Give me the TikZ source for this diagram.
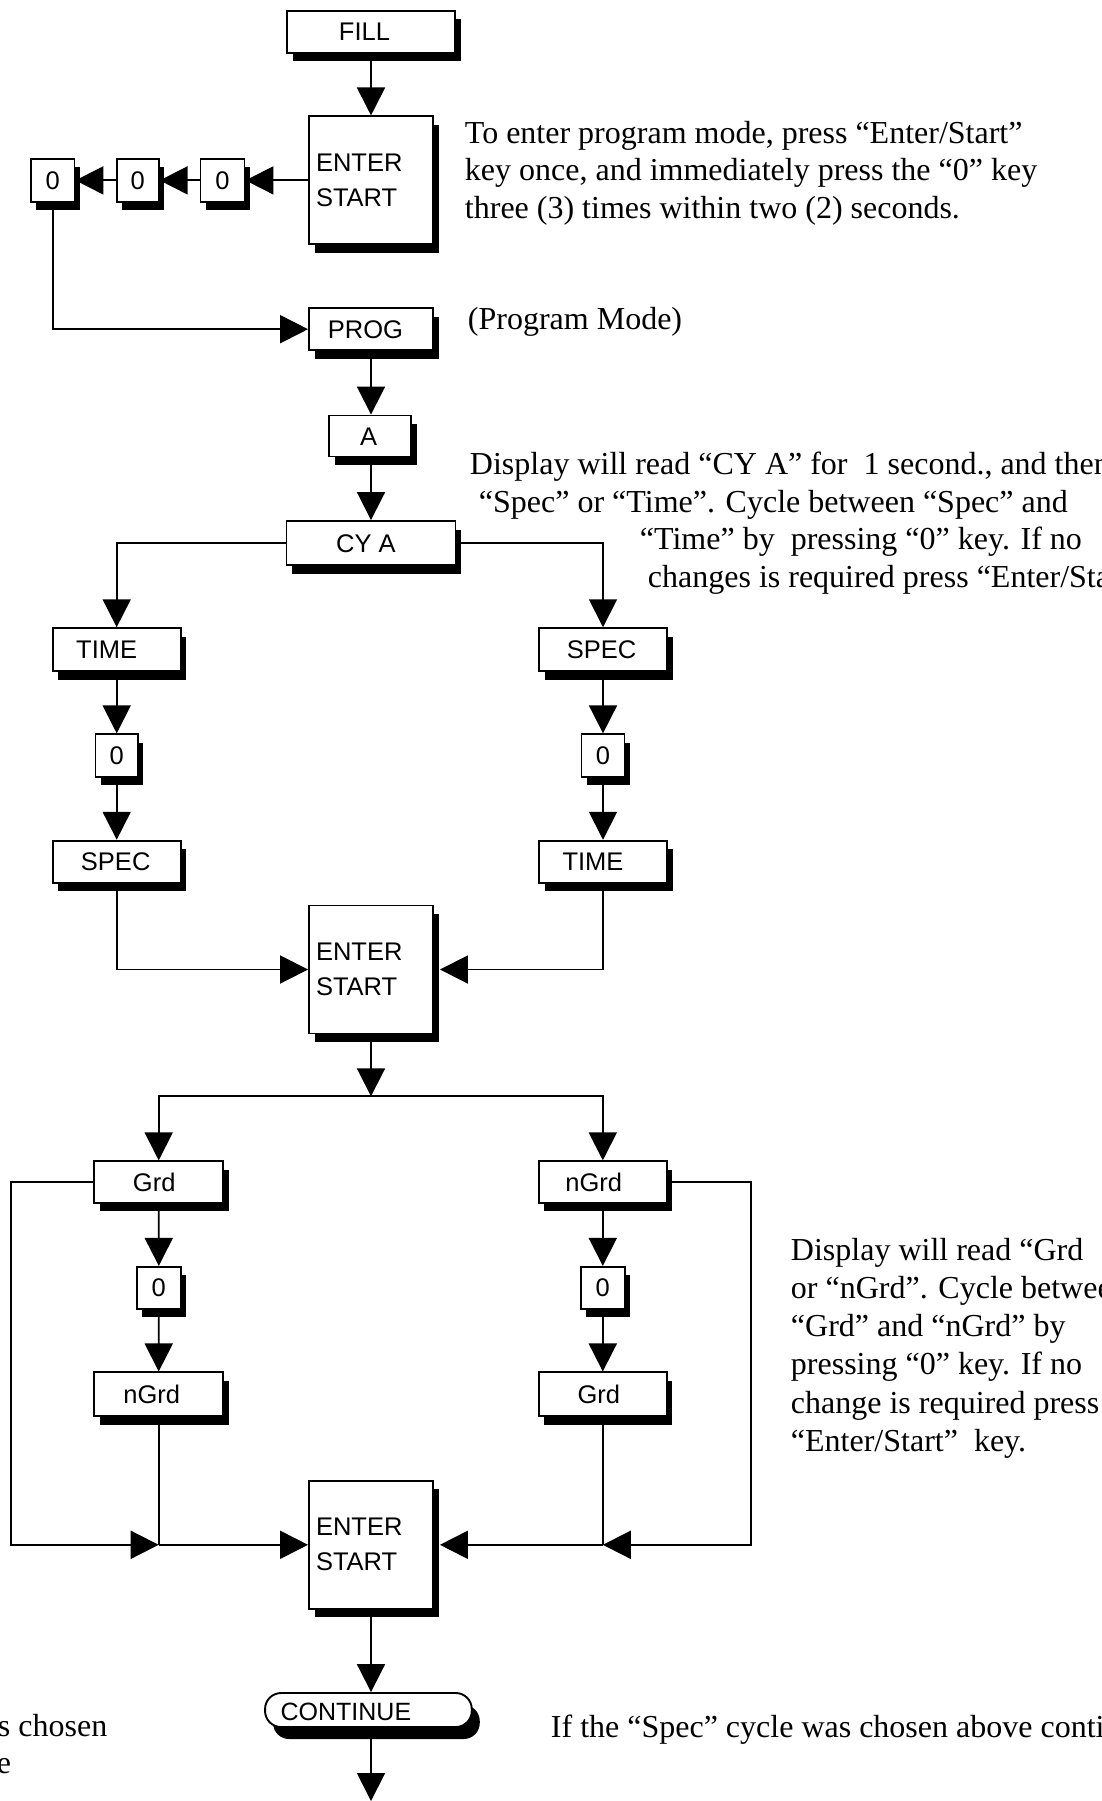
\documentclass[tikz,border=0pt]{standalone}
\usepackage{fontspec}
\setmainfont{Liberation Serif}
\newfontfamily\boxfont{Liberation Sans}
\usetikzlibrary{arrows.meta,shadows,calc}
\newcommand{\txtlines}[1]{\begin{tabular}[t]{@{}l@{}}#1\end{tabular}}
\newcommand{\pad}[1]{\rule{#1}{0pt}}
\begin{document}
\begin{tikzpicture}[x=1pt,y=-1pt,
  line width=1.9pt,
  arr/.style={-{Triangle[length=28pt,width=28pt]}},
  shad/.style={drop shadow={shadow xshift=5.5pt,shadow yshift=-8.5pt,fill=black,opacity=1}},
  box/.style={draw,fill=white,line width=1.9pt,inner sep=0pt,shad,
    font=\boxfont\fontsize{25.5}{35}\selectfont,text height=18pt,text depth=0pt},
  esbox/.style={draw,fill=white,line width=1.9pt,inner xsep=7pt,inner ysep=0pt,shad,
    font=\boxfont\fontsize{25.5}{35}\selectfont,align=left,text width=110pt,
    minimum height=128pt},
  note/.style={inner sep=0pt,anchor=base west,font=\fontsize{32}{37.5}\selectfont}
]
\useasboundingbox (0,0) rectangle (1102,1801);
\clip (0,0) rectangle (1102,1801);

% ---------- nodes ----------
\node[box,minimum width=168pt,minimum height=42pt] (fill) at (371,32) {FILL\pad{13pt}};
\node[esbox] (es1) at (371,180.4) {ENTER\\START};
\node[box,minimum width=44pt,minimum height=43pt] (z3) at (222.5,180.4) {0};
\node[box,minimum width=42pt,minimum height=43pt] (z2) at (137.7,180.4) {0};
\node[box,minimum width=43.5pt,minimum height=43pt] (z1) at (52.7,180.4) {0};
\node[box,minimum width=124pt,minimum height=42pt] (prog) at (371,329.2) {PROG\pad{11pt}};
\node[box,minimum width=82pt,minimum height=41pt] (a) at (370,436) {A\pad{3pt}};
\node[box,minimum width=169pt,minimum height=44pt] (cya) at (371,543) {CY A\pad{10pt}};

\node[box,minimum width=128pt,minimum height=43pt] (timeT) at (116.7,649.7) {TIME\pad{20pt}};
\node[box,minimum width=128pt,minimum height=43pt] (specT) at (603,649.7) {SPEC\pad{3pt}};
\node[box,minimum width=42.5pt,minimum height=42.4pt] (zl1) at (116.7,755.5) {0};
\node[box,minimum width=43pt,minimum height=42.4pt] (zr1) at (603,755.5) {0};
\node[box,minimum width=128pt,minimum height=42pt] (specL) at (116.7,861.7) {SPEC\pad{2pt}};
\node[box,minimum width=128pt,minimum height=42pt] (timeR) at (603,861.7) {TIME\pad{20pt}};
\node[esbox] (es2) at (371,969.5) {ENTER\\START};

\coordinate (j1) at (371,1096.3);
\node[box,minimum width=128.6pt,minimum height=41.4pt] (grdL) at (158.7,1182) {Grd\pad{9pt}};
\node[box,minimum width=128pt,minimum height=41.4pt] (ngrdR) at (602.8,1182) {nGrd\pad{18pt}};
\node[box,minimum width=44.3pt,minimum height=41.7pt] (zl2) at (158.8,1287.7) {0};
\node[box,minimum width=44.3pt,minimum height=41.7pt] (zr2) at (602.8,1287.7) {0};
\node[box,minimum width=128.6pt,minimum height=44pt] (ngrdL) at (158.7,1394.4) {nGrd\pad{14pt}};
\node[box,minimum width=128pt,minimum height=44pt] (grdR) at (602.8,1394.4) {Grd\pad{8pt}};
\node[esbox] (es3) at (371,1544.8) {ENTER\\START};

\coordinate (mL) at (158.7,1544.8);
\coordinate (mR) at (602.8,1544.8);
\coordinate (lout) at (11.2,1544.8);
\coordinate (rout) at (751,1544.8);

\node[draw,fill=white,line width=1.9pt,inner sep=0pt,rounded corners=16pt,
  minimum width=206.7pt,minimum height=34pt,
  drop shadow={shadow xshift=8pt,shadow yshift=-12pt,fill=black,opacity=1},
  font=\boxfont\fontsize{25}{30}\selectfont,text height=18pt,text depth=0pt]
  (cont) at (368.4,1710) {\raisebox{-1.5pt}{CONTINUE}\pad{45pt}};
\coordinate (endc) at (371,1801);

% ---------- connectors ----------
\draw[arr] (fill.south) -- (es1.north);
\draw[arr] (es1.west) -- (z3.east);
\draw[arr] (z3.west) -- (z2.east);
\draw[arr] (z2.west) -- (z1.east);
\draw[arr] (z1.south) |- (prog.west);
\draw[arr] (prog.south) -- (prog.south |- a.north);
\draw[arr] (a.south -| cya.north) -- (cya.north);
\draw[arr] (cya.west) -| (timeT.north);
\draw[arr] (cya.east) -| (specT.north);
\draw[arr] (timeT.south) -- (zl1.north);
\draw[arr] (zl1.south) -- (specL.north);
\draw[arr] (specT.south) -- (zr1.north);
\draw[arr] (zr1.south) -- (timeR.north);
\draw[arr] (specL.south) |- (es2.west);
\draw[arr] (timeR.south) |- ([xshift=6pt]es2.east);
\draw[arr] (es2.south) -- (j1);
\draw[arr] (j1) -| (grdL.north);
\draw[arr] (j1) -| (ngrdR.north);
\draw[arr] (grdL.south) -- (zl2.north);
\draw[arr] (zl2.south) -- (ngrdL.north);
\draw[arr] (ngrdR.south) -- (zr2.north);
\draw[arr] (zr2.south) -- (grdR.north);
\draw[arr] (grdL.west) -| (lout) -- (mL);
\draw (ngrdL.south) -- (mL);
\draw[arr] (mL) -- (es3.west);
\draw[arr] (ngrdR.east) -| (rout) -- (mR);
\draw (grdR.south) -- (mR);
\draw[arr] (mR) -- ([xshift=6pt]es3.east);
\draw[arr] (es3.south) -- (es3.south |- cont.north);
\draw[arr] (cont.south -| endc) -- (endc);

% ---------- notes ----------
\node[note] (n1) at (464,143.3) {\txtlines{To enter program mode, press “Enter/Start”\\
  key once, and immediately press the “0” key\\
  three (3) times within two (2) seconds.}};
\node[note] (n2) at (467,329.5) {(Program Mode)};
\node[note,font=\fontsize{32}{37.7}\selectfont] (n3) at (469,474.5) {\txtlines{Display will read “CY A” for\ \ 1 second., and then\\
  \hspace*{9pt}“Spec” or “Time”. Cycle between “Spec” and\\
  \hspace*{170pt}“Time” by\ \ pressing “0” key. If no\\
  \hspace*{178pt}changes is required press “Enter/Start”}};
\node[note,font=\fontsize{32}{38.3}\selectfont] (n4) at (790,1260) {\txtlines{Display will read “Grd\\
  or “nGrd”. Cycle between\\
  “Grd” and “nGrd” by\\
  pressing “0” key. If no\\
  change is required press\\
  “Enter/Start”\ \ key.}};
\node[note] (n5) at (550,1737) {If the “Spec” cycle was chosen above continue};
\node[note] (n6) at (-3,1736.7) {s chosen};
\node[note] (n7) at (-4,1773.3) {e};
\end{tikzpicture}
\end{document}
